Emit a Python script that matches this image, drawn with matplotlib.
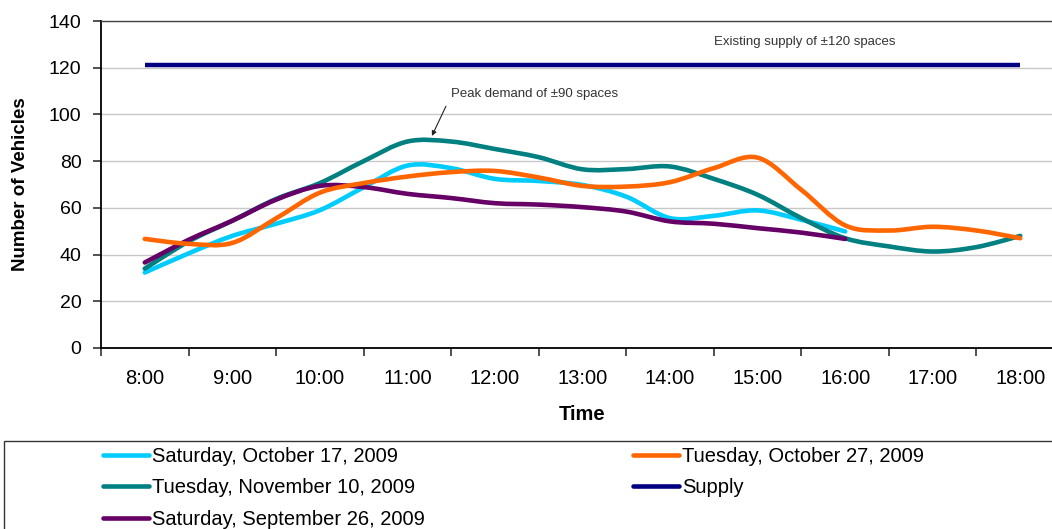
import matplotlib
matplotlib.use("Agg")
import matplotlib.pyplot as plt
from matplotlib.path import Path
from matplotlib.patches import PathPatch, Rectangle
from matplotlib.lines import Line2D

# ---- data: vehicle counts every half hour ----
times = [8.0, 8.5, 9.0, 9.5, 10.0, 10.5, 11.0, 11.5, 12.0, 12.5, 13.0,
         13.5, 14.0, 14.5, 15.0, 15.5, 16.0, 16.5, 17.0, 17.5, 18.0]
hour_ticks = [8, 9, 10, 11, 12, 13, 14, 15, 16, 17, 18]
hour_labels = ["8:00", "9:00", "10:00", "11:00", "12:00", "13:00",
               "14:00", "15:00", "16:00", "17:00", "18:00"]

sat_oct17 = [32.3, 40.5, 48.0, 53.2, 59.0, 68.8, 78.1, 77.0, 72.4, 71.5,
             69.8, 64.8, 55.6, 56.6, 58.9, 54.9, 49.9]
tue_oct27 = [46.7, 44.6, 45.0, 55.5, 66.5, 70.6, 73.4, 75.3, 75.8, 73.0,
             69.4, 69.1, 71.0, 77.0, 81.5, 67.7, 52.5, 50.3, 51.9, 50.3, 47.0]
tue_nov10 = [34.0, 45.6, 54.5, 63.8, 70.6, 80.0, 88.4, 88.4, 85.2, 81.7,
             76.5, 76.6, 77.7, 72.4, 65.6, 55.6, 47.0, 43.5, 41.3, 43.2, 48.0]
sat_sep26 = [36.6, 46.3, 54.5, 63.5, 69.4, 68.9, 66.0, 64.2, 62.0, 61.4,
             60.3, 58.4, 54.2, 53.2, 51.3, 49.4, 46.7]
supply_times = [8.0, 18.0]
supply = [121, 121]

series = [
    ("Saturday, October 17, 2009", sat_oct17, "#00CCFF"),
    ("Tuesday, November 10, 2009", tue_nov10, "#008080"),
    ("Saturday, September 26, 2009", sat_sep26, "#660066"),
    ("Tuesday, October 27, 2009", tue_oct27, "#FF6600"),
]
supply_color = "#000080"

FONT = ["Liberation Sans", "DejaVu Sans"]
plt.rcParams["font.family"] = FONT

W, H = 1052, 529
fig = plt.figure(figsize=(W / 100, H / 100), dpi=100)
fig.patch.set_facecolor("white")


def fx(px):
    return px / W


def fy(py):
    return 1 - py / H


ax = fig.add_axes([fx(101), fy(348), fx(1064) - fx(101), fy(21) - fy(348)])


def smooth_path(xs, ys):
    """Smoothed line through the points, as cubic Bezier segments."""
    pts = list(zip(xs, ys))
    n = len(pts)
    verts = [pts[0]]
    codes = [Path.MOVETO]
    for i in range(n - 1):
        p0 = pts[i - 1] if i > 0 else pts[i]
        p1 = pts[i]
        p2 = pts[i + 1]
        p3 = pts[i + 2] if i + 2 < n else pts[i + 1]
        c1 = (p1[0] + (p2[0] - p0[0]) / 6, p1[1] + (p2[1] - p0[1]) / 6)
        c2 = (p2[0] - (p3[0] - p1[0]) / 6, p2[1] - (p3[1] - p1[1]) / 6)
        verts += [c1, c2, p2]
        codes += [Path.CURVE4] * 3
    return Path(verts, codes)


LW = 3.3
for label, vals, color in series:
    xs = times[:len(vals)]
    ax.add_patch(PathPatch(smooth_path(xs, vals), facecolor="none",
                           edgecolor=color, lw=LW, capstyle="round",
                           joinstyle="round", zorder=3))
ax.plot(supply_times, supply, color=supply_color, lw=3.2, zorder=3,
        solid_capstyle="butt")

ax.set_xlim(7.5, 18.5)
ax.set_ylim(0, 140)
ax.set_yticks(range(0, 141, 20))
ax.yaxis.grid(True, color="#C8C8C8", lw=1.0)
ax.set_axisbelow(True)

# tick marks between hours, labels centred on the hours
ax.set_xticks([h - 0.5 for h in hour_ticks] + [18.5])
ax.set_xticklabels([])
ax.set_xticks(hour_ticks, minor=True)
ax.set_xticklabels(hour_labels, minor=True)
ax.tick_params(axis="x", which="major", direction="out", length=6,
               width=1.2, color="#333333")
ax.tick_params(axis="x", which="minor", length=0, pad=15, labelsize=14.5)
ax.tick_params(axis="y", direction="out", length=6, width=1.2,
               color="#333333", pad=8, labelsize=14)

for side in ("left", "bottom"):
    ax.spines[side].set_color("#000000")
    ax.spines[side].set_linewidth(1.3)
ax.spines["top"].set_color("#444444")
ax.spines["top"].set_linewidth(1.0)
ax.spines["right"].set_visible(False)

ax.set_xlabel("Time", fontsize=14.5, fontweight="bold", labelpad=12)
ax.set_ylabel("Number of Vehicles", fontsize=13.5, fontweight="bold",
              labelpad=14)

ax.text(14.5, 131, "Existing supply of \u00b1120 spaces", fontsize=9.5,
        color="#333333", va="center", ha="left")
ax.text(11.50, 108.7, "Peak demand of \u00b190 spaces", fontsize=9.5,
        color="#333333", va="center", ha="left")
ax.annotate("", xy=(11.28, 90.8), xytext=(11.44, 103.5),
            arrowprops=dict(arrowstyle="-|>", color="#222222", lw=0.8,
                            mutation_scale=7, shrinkA=0, shrinkB=0))

# legend frame and entries
fig.add_artist(Rectangle((fx(4), fy(540)), fx(1060) - fx(4), fy(441) - fy(540),
                         transform=fig.transFigure, facecolor="none",
                         edgecolor="#333333", lw=1.0))
handles = [Line2D([], [], color=c, lw=LW, solid_capstyle="round")
           for _, _, c in series[:3]]
handles += [Line2D([], [], color=series[3][2], lw=LW, solid_capstyle="round"),
            Line2D([], [], color=supply_color, lw=LW, solid_capstyle="round")]
labels = [s[0] for s in series[:3]] + [series[3][0], "Supply"]
fig.legend(handles, labels, ncol=2, loc="upper left",
           bbox_to_anchor=(fx(103), fy(447)), frameon=False, fontsize=14.5,
           handlelength=2.3, handletextpad=0.15, labelspacing=0.62,
           columnspacing=10.3, borderpad=0, borderaxespad=0)

fig.savefig("out.png", dpi=100, facecolor="white")
